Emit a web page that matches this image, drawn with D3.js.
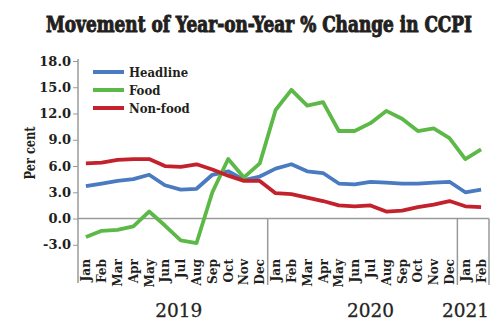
<!DOCTYPE html>
<html>
<head>
<meta charset="utf-8">
<script src="https://cdn.jsdelivr.net/npm/d3@7"></script>
<style>
  body { margin: 0; background: #fff; }
  svg { display: block; }
  text { font-family: "DejaVu Serif Condensed", "DejaVu Serif", serif; fill: #231f20; font-weight: bold; }
</style>
</head>
<body>
<svg id="chart"></svg>
<script>
// CCPI year-on-year % change, Jan 2019 - Feb 2021
const months = ['Jan', 'Feb', 'Mar', 'Apr', 'May', 'Jun', 'Jul', 'Aug', 'Sep', 'Oct', 'Nov', 'Dec',
  'Jan', 'Feb', 'Mar', 'Apr', 'May', 'Jun', 'Jul', 'Aug', 'Sep', 'Oct', 'Nov', 'Dec',
  'Jan', 'Feb'];
const years = [
  { label: '2019', first: 0, last: 11 },
  { label: '2020', first: 12, last: 23 },
  { label: '2021', first: 24, last: 25 },
];
const headline = [3.7, 4.0, 4.3, 4.5, 5.0, 3.8, 3.3, 3.4, 5.0, 5.4, 4.4, 4.8,
  5.7, 6.2, 5.4, 5.2, 4.0, 3.9, 4.2, 4.1, 4.0, 4.0, 4.1, 4.2, 3.0, 3.3];
const food = [-2.1, -1.4, -1.3, -0.9, 0.8, -0.8, -2.5, -2.8, 3.0, 6.8, 4.7, 6.3,
  12.4, 14.7, 12.9, 13.3, 10.0, 10.0, 10.9, 12.3, 11.4, 10.0, 10.3, 9.2, 6.8, 7.9];
const nonFood = [6.3, 6.4, 6.7, 6.8, 6.8, 6.0, 5.9, 6.2, 5.6, 4.9, 4.3, 4.3,
  2.9, 2.8, 2.4, 2.0, 1.5, 1.4, 1.5, 0.8, 0.9, 1.3, 1.6, 2.0, 1.4, 1.3];
const yTicks = [-3, 0, 3, 6, 9, 12, 15, 18];

const series = [
  { name: 'Headline', values: headline, color: '#4a7bc1' },
  { name: 'Food', values: food, color: '#5cb947' },
  { name: 'Non-food', values: nonFood, color: '#c3222c' },
];

const W = 500, H = 329;
const ink = '#231f20';
const svg = d3.select('#chart').attr('width', W).attr('height', H);

const x = d3.scaleBand().domain(d3.range(months.length)).range([78, 489]).padding(0);
const y = d3.scaleLinear().domain([-3, 18]).range([244.8, 61]);
const cx = i => x(i) + x.bandwidth() / 2;
const grey = '#9a9a9a';

// title, a heavy slab face: bold stretched upward and thickened with a stroke
svg.append('text')
  .attr('transform', 'translate(259,32) scale(1,1.35)')
  .attr('text-anchor', 'middle')
  .attr('textLength', 426).attr('lengthAdjust', 'spacingAndGlyphs')
  .style('font-family', '"DejaVu Serif", serif')
  .style('font-size', '17px')
  .attr('stroke', ink).attr('stroke-width', 0.8)
  .text('Movement of Year-on-Year % Change in CCPI');

// y axis
const yAxis = svg.append('g')
  .attr('transform', 'translate(78,0)')
  .call(d3.axisLeft(y).tickValues(yTicks).tickSize(5).tickPadding(2).tickFormat(d => d.toFixed(1)));
yAxis.select('.domain').remove();
yAxis.selectAll('.tick line').attr('stroke', grey);
yAxis.selectAll('.tick text')
  .style('font-size', '13px')
  .style('font-family', '"DejaVu Serif", serif')
  .attr('fill', ink);
svg.append('line')
  .attr('x1', 78).attr('x2', 78)
  .attr('y1', y(18) - 2).attr('y2', 283)
  .attr('stroke', grey).attr('stroke-width', 1.5);

svg.append('text')
  .attr('transform', `translate(35,${y(7.5)}) rotate(-90)`)
  .attr('text-anchor', 'middle')
  .attr('textLength', 53).attr('lengthAdjust', 'spacingAndGlyphs')
  .style('font-size', '14.5px')
  .text('Per cent');

// zero line and year separators
svg.append('line')
  .attr('x1', 78).attr('x2', x.range()[1])
  .attr('y1', y(0)).attr('y2', y(0))
  .attr('stroke', grey).attr('stroke-width', 1.5);
const seps = [x(12), x(24), x.range()[1]];
svg.selectAll('.sep').data(seps).join('line')
  .attr('class', 'sep')
  .attr('x1', d => d).attr('x2', d => d)
  .attr('y1', y(0)).attr('y2', 285)
  .attr('stroke', grey).attr('stroke-width', 1.5);

// month labels
svg.selectAll('.month').data(months).join('text')
  .attr('class', 'month')
  .attr('transform', (d, i) => `translate(${cx(i) + 4.5},259) rotate(-90)`)
  .attr('text-anchor', 'end')
  .style('font-size', '13.5px')
  .text(d => d);

// year labels
const yearOffsets = { '2019': 6, '2020': 8 };
svg.selectAll('.year').data(years).join('text')
  .attr('class', 'year')
  .attr('x', d => d.last - d.first > 2 ? (cx(d.first) + cx(d.last)) / 2 + yearOffsets[d.label] : x.range()[1])
  .attr('y', 317)
  .attr('text-anchor', d => d.last - d.first > 2 ? 'middle' : 'end')
  .style('font-family', '"DejaVu Serif", serif')
  .style('font-weight', 'normal')
  .style('font-size', '18.5px')
  .attr('fill', '#333')
  .attr('stroke', '#333').attr('stroke-width', 0.3)
  .text(d => d.label);

// series lines
const line = d3.line().x((d, i) => cx(i)).y(d => y(d));
svg.selectAll('.series').data(series).join('path')
  .attr('class', 'series')
  .attr('d', d => line(d.values))
  .attr('fill', 'none')
  .attr('stroke', d => d.color)
  .attr('stroke-width', 3.8)
  .attr('stroke-linejoin', 'round');

// legend
const legend = svg.append('g').attr('transform', 'translate(93,72)');
const item = legend.selectAll('g').data(series).join('g')
  .attr('transform', (d, i) => `translate(0,${i * 18})`);
item.append('line')
  .attr('x1', 0).attr('x2', 31)
  .attr('stroke', d => d.color).attr('stroke-width', 4);
item.append('text')
  .attr('x', 36).attr('dy', '0.35em')
  .style('font-size', '13px')
  .text(d => d.name);
</script>
</body>
</html>
